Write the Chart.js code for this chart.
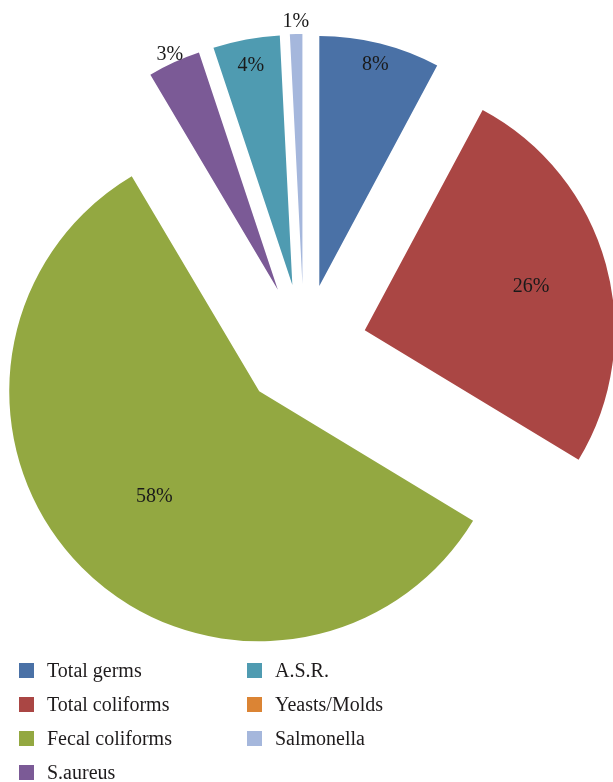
<!DOCTYPE html>
<html>
<head>
<meta charset="utf-8">
<script src="https://cdn.jsdelivr.net/npm/chart.js@4.4.0/dist/chart.umd.min.js"></script>
<style>
  body { margin: 0; background: #fff; }
  #wrap { position: relative; width: 613px; height: 782px; }
  #legend {
    position: absolute; left: 19px; top: 653px;
    display: grid; grid-auto-flow: column;
    grid-template-columns: 228px auto; grid-template-rows: repeat(4, 34px);
    font-family: 'Liberation Serif', serif; font-size: 20px; color: #1e1b1c;
  }
  .item { display: flex; align-items: center; white-space: nowrap; }
  .box { width: 15px; height: 15px; margin-right: 13px; flex: none; }
</style>
</head>
<body>
<div id="wrap">
  <canvas id="pie" width="613" height="782"></canvas>
  <div id="legend"></div>
</div>
<script>
// datos del gráfico (porcentajes)
const categories = ['Total germs', 'Total coliforms', 'Fecal coliforms', 'S.aureus', 'A.S.R.', 'Yeasts/Molds', 'Salmonella'];
const values = [7.8, 25.8, 57.7, 3.4, 4.3, 0, 0.8];
const colors = ['#4a71a6', '#aa4644', '#93a841', '#7b5a96', '#4f9bb1', '#db8434', '#a5b7dc'];

// distancia radial de cada etiqueta (fracción del radio)
const labelRadial = [0.92, 0.69, 0.59, 1.04, 0.90, 0, 1.056];

// separa cada porción desde el centro
const explodePlugin = {
  id: 'explode',
  beforeDatasetDraw(chart, args, opts) {
    const ctx = chart.ctx;
    args.meta.data.forEach(arc => {
      const mid = (arc.startAngle + arc.endAngle) / 2;
      ctx.save();
      ctx.translate(Math.cos(mid) * opts.distance, Math.sin(mid) * opts.distance);
      arc.draw(ctx, chart.chartArea);
      ctx.restore();
    });
    return false;
  }
};

// etiquetas de porcentaje
const sliceLabels = {
  id: 'sliceLabels',
  afterDatasetsDraw(chart, args, opts) {
    const ctx = chart.ctx;
    const meta = chart.getDatasetMeta(0);
    ctx.save();
    ctx.font = opts.font;
    ctx.fillStyle = opts.color;
    ctx.textAlign = 'center';
    ctx.textBaseline = 'middle';
    meta.data.forEach((arc, i) => {
      if (!values[i]) return;
      const mid = (arc.startAngle + arc.endAngle) / 2;
      const r = arc.outerRadius * labelRadial[i] + opts.distance;
      ctx.fillText(Math.round(values[i]) + '%', arc.x + Math.cos(mid) * r, arc.y + Math.sin(mid) * r + opts.nudgeY);
    });
    ctx.restore();
  }
};

new Chart(document.getElementById('pie'), {
  type: 'pie',
  data: {
    labels: categories,
    datasets: [{
      data: values,
      backgroundColor: colors,
      borderWidth: 0,
      radius: 250
    }]
  },
  options: {
    responsive: false,
    animation: false,
    events: [],
    layout: { padding: { left: 0, right: 5, top: 0, bottom: 88 } },
    plugins: {
      legend: { display: false },
      tooltip: { enabled: false },
      explode: { distance: 63 },
      sliceLabels: { distance: 63, nudgeY: 2, font: '20px "Liberation Serif", serif', color: '#1a1a1a' }
    }
  },
  plugins: [explodePlugin, sliceLabels]
});

// leyenda
const legend = document.getElementById('legend');
categories.forEach((name, i) => {
  const item = document.createElement('div');
  item.className = 'item';
  item.innerHTML = `<span class="box" style="background:${colors[i]}"></span><span>${name}</span>`;
  legend.appendChild(item);
});
</script>
</body>
</html>
